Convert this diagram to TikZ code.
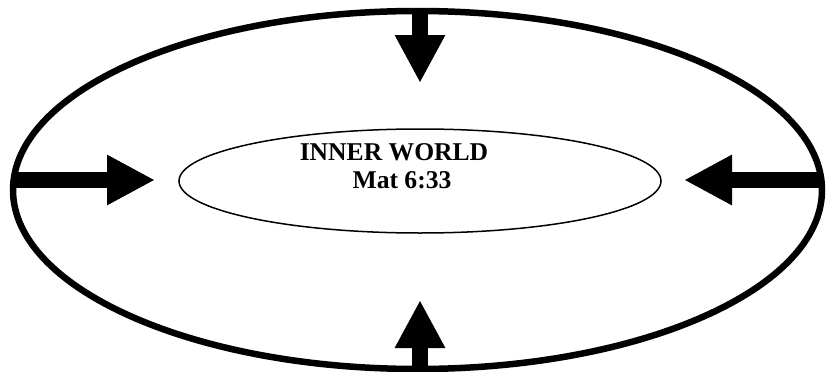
\documentclass[tikz,border=0pt]{standalone}
\usepackage{fontspec}
\setmainfont{Liberation Serif}
\usetikzlibrary{shapes.geometric,arrows.meta}
\begin{document}
\begin{tikzpicture}[x=1pt,y=-1pt,
  bigarrow/.style={line width=16pt,-{Triangle[width=47pt,length=48pt]}},
  labeltext/.style={font=\bfseries\fontsize{25.6}{28}\selectfont,anchor=base,inner sep=0pt}]
\useasboundingbox (0,0) rectangle (828,372);
\node[ellipse,draw,line width=6.5pt,minimum width=809pt,minimum height=358pt,inner sep=0pt,outer sep=0pt] (outer) at (417.5,190) {};
\node[ellipse,draw,line width=1.5pt,minimum width=482pt,minimum height=104pt,inner sep=0pt,outer sep=0pt] (inner) at (420,181) {};
\node[labeltext] (t1) at (394,160) {INNER WORLD};
\node[labeltext] (t2) at (402,188) {Mat 6:33};
\coordinate (topstart) at ([xshift=2.5pt]outer.north);
\coordinate (toptip) at (420,83);
\coordinate (botstart) at ([xshift=2.5pt]outer.south);
\coordinate (bottip) at (420,300);
\coordinate (leftstart) at (13.5,180);
\coordinate (lefttip) at (155,180);
\coordinate (rightstart) at (821.5,180);
\coordinate (righttip) at (684,180);
\draw[bigarrow] (topstart) -- (toptip);
\draw[bigarrow] (botstart) -- (bottip);
\draw[bigarrow] (leftstart) -- (lefttip);
\draw[bigarrow] (rightstart) -- (righttip);
\end{tikzpicture}
\end{document}
